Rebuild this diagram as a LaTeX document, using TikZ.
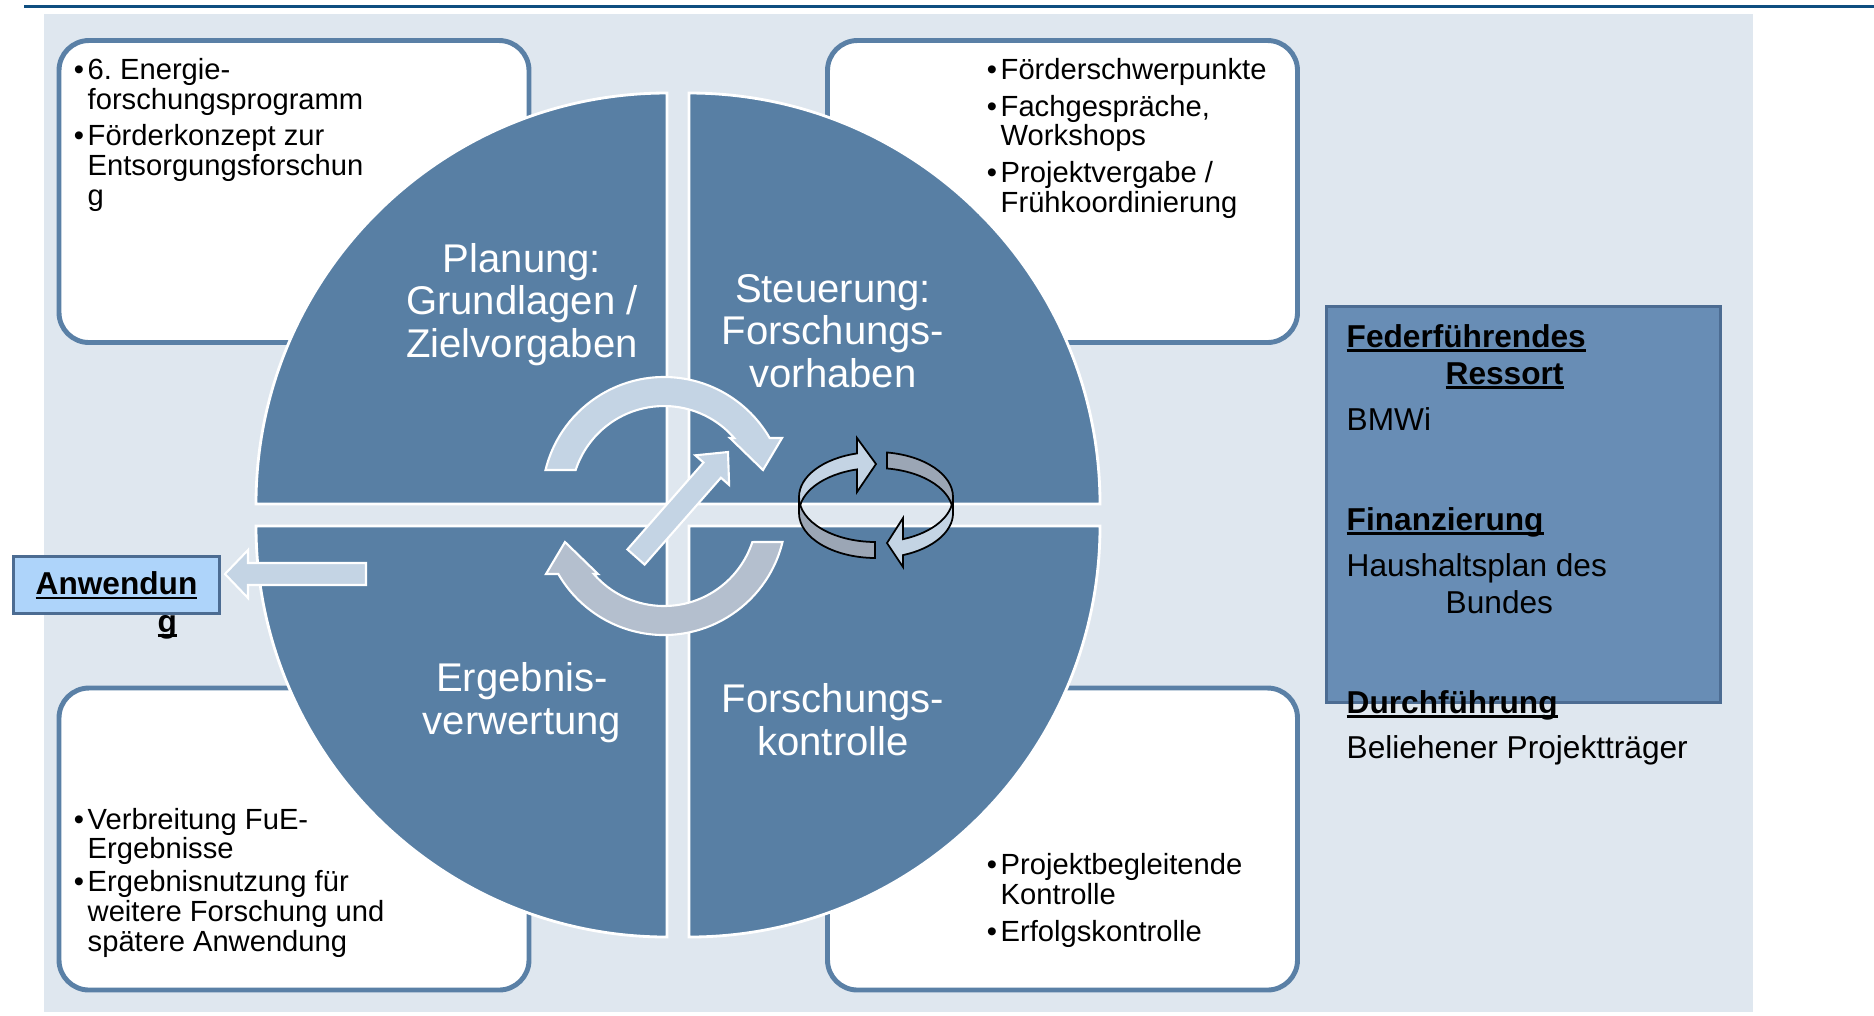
\documentclass[tikz,border=0pt]{standalone}
\usepackage{fontspec}
\setmainfont{Liberation Sans}

\definecolor{linie}{RGB}{14,78,128}
\definecolor{flaeche}{RGB}{223,231,239}
\definecolor{quadrant}{RGB}{88,127,164}
\definecolor{rahmen}{RGB}{90,128,166}
\definecolor{pfeilhell}{RGB}{196,212,228}
\definecolor{pfeilgrau}{RGB}{180,191,206}
\definecolor{ringgrau}{RGB}{155,166,181}
\definecolor{legende}{RGB}{104,141,181}
\definecolor{legrahmen}{RGB}{76,108,146}
\definecolor{anwfill}{RGB}{174,212,250}

\frenchspacing
\lineskiplimit=-10pt
\newlength\ulbreite
\newcommand\ulbf[1]{\settowidth{\ulbreite}{\bfseries #1}\rlap{\rule[-1.3pt]{\ulbreite}{0.6pt}}\textbf{#1}}
\newcommand\pkt{\llap{\textbullet\hspace{1pt}}}

\begin{document}
\begin{tikzpicture}[
    feld/.style={rectangle, draw=rahmen, fill=white, line width=1.4pt, rounded corners=0.3cm, minimum width=4.70cm, minimum height=3.02cm},
    viertel/.style={fill=quadrant, draw=white, line width=0.8pt},
    phase/.style={text=white, align=center, inner sep=0pt, anchor=base, font=\fontsize{11.4}{12}\selectfont},
    liste/.style={align=left, inner sep=0pt, anchor=base west, font=\fontsize{8.3}{8.4}\selectfont},
    legtext/.style={inner sep=0pt, anchor=base west, font=\fontsize{9}{10.5}\selectfont},
    blockpfeil/.style={fill=pfeilhell, draw=white, line width=0.6pt},
    ring/.style={draw=black, line width=0.5pt}
]
\useasboundingbox (0,0) rectangle (18.74,-10.15);

% Hintergrund und Linie oben
\fill[flaeche] (0.44,-0.14) rectangle (17.53,-10.12);
\draw[linie, line width=0.9pt] (0.24,-0.065) -- (18.74,-0.065);

% Kaesten in den Ecken
\node[feld] (boxtl) at (2.94,-1.915) {};
\node[feld] (boxtr) at (10.625,-1.915) {};
\node[feld] (boxbl) at (2.94,-8.39) {};
\node[feld] (boxbr) at (10.625,-8.39) {};

% Kreis aus vier Vierteln
\filldraw[viertel] (6.67,-5.04) -- ++(180:4.11) arc[start angle=180, end angle=90, radius=4.11] -- cycle;
\filldraw[viertel] (6.89,-5.04) -- ++(90:4.11) arc[start angle=90, end angle=0, radius=4.11] -- cycle;
\filldraw[viertel] (6.67,-5.26) -- ++(180:4.11) arc[start angle=180, end angle=270, radius=4.11] -- cycle;
\filldraw[viertel] (6.89,-5.26) -- ++(0:4.11) arc[start angle=0, end angle=-90, radius=4.11] -- cycle;

% Phasen (Anker = Grundlinie der letzten Zeile)
\node[phase] (planung) at (5.22,-3.57) {Planung:\\Grundlagen /\\Zielvorgaben};
\node[phase] (steuerung) at (8.33,-3.87) {Steuerung:\\Forschungs-\\vorhaben};
\node[phase] (verwertung) at (5.22,-7.34) {Ergebnis-\\verwertung};
\node[phase] (kontrolle) at (8.33,-7.55) {Forschungs-\\kontrolle};

% Listen in den Kaesten
\node[liste] (listetl) at (0.87,-2.05) {\pkt 6. Energie-\\forschungsprogramm\\[2pt]\pkt F\"orderkonzept zur\\Entsorgungsforschun\\g};
\node[liste] (listetr) at (10.00,-2.12) {\pkt F\"orderschwerpunkte\\[2pt]\pkt Fachgespr\"ache,\\Workshops\\[2pt]\pkt Projektvergabe /\\Fr\"uhkoordinierung};
\node[liste] (listebl) at (0.87,-9.51) {\pkt Verbreitung FuE-\\Ergebnisse\\[1pt]\pkt Ergebnisnutzung f\"ur\\weitere Forschung und\\sp\"atere Anwendung};
\node[liste] (listebr) at (10.00,-9.41) {\pkt Projektbegleitende\\Kontrolle\\[2pt]\pkt Erfolgskontrolle};

% Kreispfeile in der Mitte
\filldraw[blockpfeil] (6.64,-4.99) ++(166.25:1.22) arc[start angle=166.25, end angle=30, radius=1.22]
    -- (7.82,-4.38) -- (7.63,-4.70) -- (7.30,-4.38) -- (7.342,-4.380)
    arc[start angle=41, end angle=161.8, radius=0.93] -- cycle;
\filldraw[blockpfeil, fill=pfeilgrau] (6.64,-5.13) ++(-13.75:1.22) arc[start angle=-13.75, end angle=-150, radius=1.22]
    -- (5.46,-5.74) -- (5.65,-5.42) -- (5.98,-5.74) -- (5.938,-5.740)
    arc[start angle=-139, end angle=-18.2, radius=0.93] -- cycle;
\filldraw[blockpfeil] (6.274,-5.494) -- (7.035,-4.625) -- (6.953,-4.553) -- (7.28,-4.52)
    -- (7.291,-4.849) -- (7.209,-4.777) -- (6.446,-5.646) -- cycle;

% Ring rechts
\filldraw[ring, fill=pfeilhell] (8.76,-4.97) ++(180:0.77 and 0.45) arc[start angle=180, end angle=104.3, x radius=0.77, y radius=0.45]
    -- (8.57,-4.38) -- (8.76,-4.64) -- (8.57,-4.92) -- (8.57,-4.694)
    arc[start angle=104.3, end angle=180, x radius=0.77, y radius=0.45] -- cycle;
\filldraw[ring, fill=ringgrau] (8.76,-4.97) ++(81.8:0.77 and 0.45) arc[start angle=81.8, end angle=0, x radius=0.77, y radius=0.45]
    -- ++(0,-0.16) arc[start angle=0, end angle=81.8, x radius=0.77, y radius=0.45] -- cycle;
\filldraw[ring, fill=pfeilhell] (9.53,-4.97) arc[start angle=0, end angle=-69.5, x radius=0.77, y radius=0.45]
    -- (9.03,-5.18) -- (8.87,-5.43) -- (9.03,-5.67) -- (9.03,-5.551)
    arc[start angle=-69.5, end angle=0, x radius=0.77, y radius=0.45] -- cycle;
\filldraw[ring, fill=ringgrau] (7.99,-4.97) arc[start angle=180, end angle=269.3, x radius=0.77, y radius=0.45]
    -- ++(0,-0.16) arc[start angle=269.3, end angle=180, x radius=0.77, y radius=0.45] -- cycle;

% Anwendung
\node[rectangle, draw=legrahmen, fill=anwfill, line width=0.7pt, minimum width=2.06cm, minimum height=0.57cm,
    font=\fontsize{9}{10.5}\selectfont] (anw) at (1.165,-5.85) {\ulbf{Anwendun}};
\node[legtext] (anwg) at (1.57,-6.32) {\ulbf{g}};
\filldraw[blockpfeil, fill=pfeilhell] (2.25,-5.74) -- (2.48,-5.50) -- (2.48,-5.63) -- (3.66,-5.63)
    -- (3.66,-5.85) -- (2.48,-5.85) -- (2.48,-5.98) -- cycle;

% Legende rechts
\node[rectangle, draw=legrahmen, fill=legende, line width=0.85pt, minimum width=3.94cm, minimum height=3.96cm] (legende) at (15.235,-5.045) {};
\node[legtext] (ressort) at (13.46,-3.47) {\ulbf{Federf\"uhrendes}};
\node[legtext] (ressort2) at (14.45,-3.84) {\ulbf{Ressort}};
\node[legtext] (bmwi) at (13.46,-4.30) {BMWi};
\node[legtext] (finanz) at (13.46,-5.30) {\ulbf{Finanzierung}};
\node[legtext] (haushalt) at (13.46,-5.76) {Haushaltsplan des};
\node[legtext] (bundes) at (14.45,-6.13) {Bundes};
\node[legtext] (durch) at (13.46,-7.13) {\ulbf{Durchf\"uhrung}};
\node[legtext] (traeger) at (13.46,-7.58) {Beliehener Projekttr\"ager};

\end{tikzpicture}
\end{document}
